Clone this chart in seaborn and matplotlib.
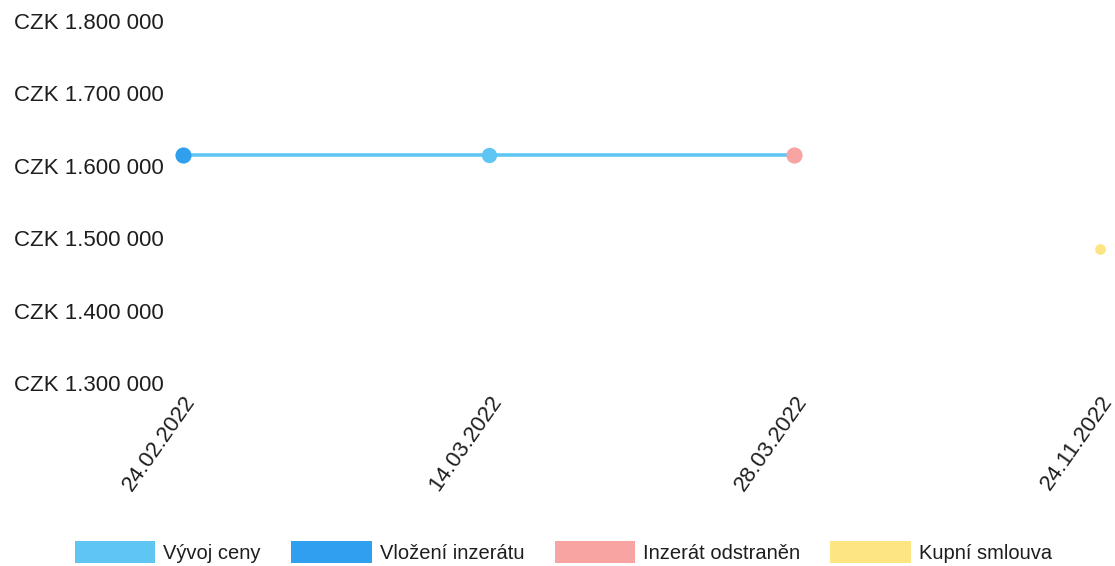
import matplotlib
matplotlib.use("Agg")
import matplotlib.pyplot as plt
from matplotlib.patches import Patch
from matplotlib.ticker import FuncFormatter
import pandas as pd
import seaborn as sns

# Price history of the listing
dates = ["24.02.2022", "14.03.2022", "28.03.2022", "24.11.2022"]
price_values = [1615000, 1615000, 1615000]

# Events on the timeline (index into dates, price at the event)
listing_idx = [0]
listing_values = [1615000]
removed_idx = [2]
removed_values = [1615000]
contract_idx = [3]
contract_values = [1485000]

series_names = ["Vývoj ceny", "Vložení inzerátu", "Inzerát odstraněn", "Kupní smlouva"]
series_colors = ["#5fc6f3", "#2f9fee", "#f8a4a2", "#fde584"]

y_ticks = [1300000, 1400000, 1500000, 1600000, 1700000, 1800000]


def czk(value, _pos=None):
    v = int(round(value))
    millions = v // 1000000
    thousands = (v // 1000) % 1000
    units = v % 1000
    return f"CZK {millions}.{thousands:03d} {units:03d}"


sns.set_theme(style="white")
plt.rcParams["font.family"] = ["Liberation Sans", "DejaVu Sans"]

fig = plt.figure(figsize=(11.15, 5.66), dpi=100)
ax = fig.add_axes([0.1641, 0.3226, 0.8224, 0.6404])

price_df = pd.DataFrame({"pos": list(range(len(price_values))), "cena": price_values})
sns.lineplot(
    data=price_df, x="pos", y="cena", ax=ax,
    color=series_colors[0], linewidth=2.6,
    marker="o", markersize=11, markeredgewidth=0,
    clip_on=False, zorder=2,
)

sns.scatterplot(x=listing_idx, y=listing_values, ax=ax, color=series_colors[1],
                s=135, linewidth=0, clip_on=False, zorder=3)
sns.scatterplot(x=removed_idx, y=removed_values, ax=ax, color=series_colors[2],
                s=135, linewidth=0, clip_on=False, zorder=3)
sns.scatterplot(x=contract_idx, y=contract_values, ax=ax, color=series_colors[3],
                s=60, linewidth=0, clip_on=False, zorder=3)

ax.set_xlim(0, len(dates) - 1)
ax.set_ylim(y_ticks[0], y_ticks[-1])
ax.set_xticks(range(len(dates)))
ax.set_xticklabels(dates, rotation=55, ha="right", va="top", rotation_mode="anchor",
                   fontsize=16)

ax.set_yticks(y_ticks)
ax.yaxis.set_major_formatter(FuncFormatter(czk))
ax.tick_params(axis="both", length=0, labelcolor="#1e1e1e")
ax.tick_params(axis="y", labelsize=16, pad=14)
ax.tick_params(axis="x", pad=6)
ax.set_xlabel("")
ax.set_ylabel("")
ax.grid(False)
sns.despine(ax=ax, left=True, bottom=True)

handles = [Patch(facecolor=c, edgecolor="none") for c in series_colors]
fig.legend(
    handles, series_names, loc="center", bbox_to_anchor=(0.5054, 0.0247),
    ncol=4, frameon=False, fontsize=14.5, labelcolor="#1e1e1e",
    handlelength=4.0, handleheight=1.3, handletextpad=0.4,
    columnspacing=1.5, borderpad=0, borderaxespad=0,
)

fig.savefig("out.png", dpi=100, facecolor="white")
